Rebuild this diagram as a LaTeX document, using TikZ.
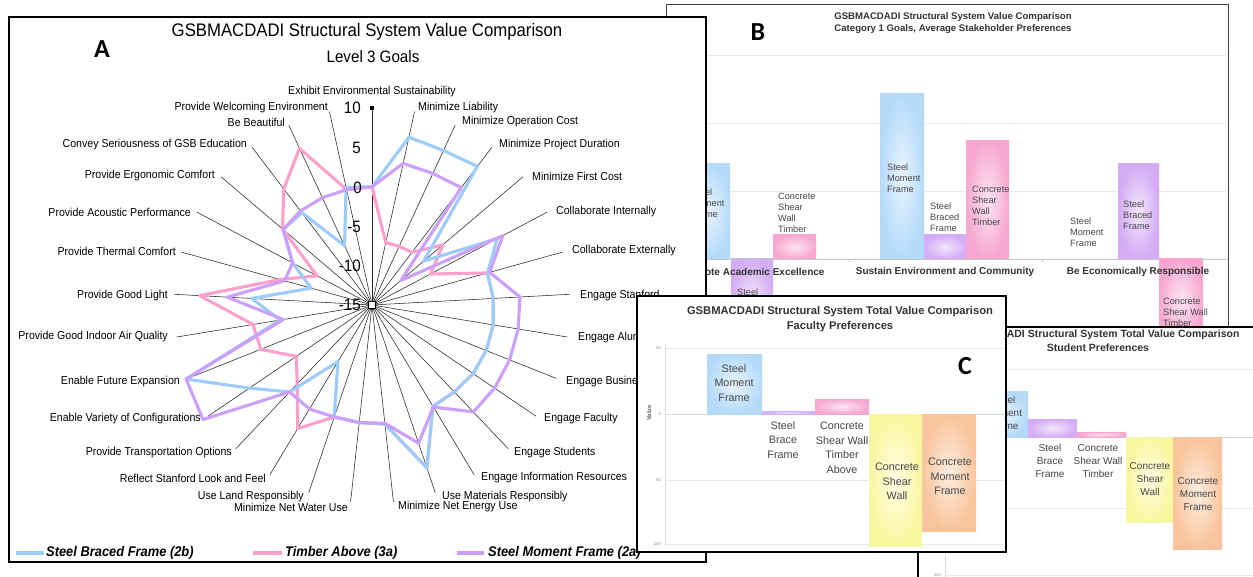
\documentclass[tikz,border=0pt]{standalone}
\usepackage{fontspec}
\setmainfont{Liberation Sans}
\newfontfamily\nf[FakeStretch=0.92]{Liberation Sans}
\newfontfamily\lettfont{Carlito}
\usetikzlibrary{calc}
\definecolor{rblue}{RGB}{158,204,250}
\definecolor{rpink}{RGB}{255,160,204}
\definecolor{rpurp}{RGB}{204,160,250}
\definecolor{bblue}{RGB}{180,218,250}
\definecolor{bpurp}{RGB}{212,172,245}
\definecolor{bpink}{RGB}{247,168,208}
\definecolor{byell}{RGB}{250,246,160}
\definecolor{borng}{RGB}{249,196,155}
\definecolor{ink}{RGB}{70,70,70}
\newcommand\mkser[2]{%
  \foreach \v [count=\i from 0] in {#2}{%
    \pgfmathsetmacro\myr{7.88*(\v+15)}%
    \coordinate (#1\i) at ([shift={(c)}]{90-\i*360/29}:\myr pt);%
  }}
\newcommand\gbar[3]{\shade[inner color=#1!30!white, outer color=#1] #2 rectangle #3;}
\begin{document}
\begin{tikzpicture}[x=1pt,y=-1pt,
  ax/.style={draw=black!85,line width=0.55pt},
  ser/.style={line width=3.1pt,line join=round},
  la/.style={font=\nf\fontsize{11.5}{13}\selectfont,inner sep=0pt},
  num/.style={font=\nf\fontsize{16.5}{18}\selectfont,inner sep=0pt,anchor=east},
  leg/.style={font=\nf\bfseries\itshape\fontsize{14}{16}\selectfont,inner sep=0pt,anchor=west},
  bigl/.style={font=\lettfont\bfseries\fontsize{26}{28}\selectfont,inner sep=0pt},
  bt/.style={font=\bfseries\fontsize{9.6}{11}\selectfont,text=black!80,inner sep=0pt},
  bcat/.style={font=\bfseries\fontsize{10}{12}\selectfont,text=black!80,inner sep=0pt},
  bl/.style={font=\fontsize{9.2}{11.3}\selectfont,text=ink,inner sep=0pt,align=left,anchor=north west},
  ct/.style={font=\bfseries\fontsize{11.2}{13}\selectfont,text=black!80,inner sep=0pt},
  cl/.style={font=\fontsize{10.8}{14.5}\selectfont,text=ink,inner sep=0pt,align=center,anchor=north},
  dt/.style={font=\bfseries\fontsize{10.5}{12}\selectfont,text=black!80,inner sep=0pt},
  dl/.style={font=\fontsize{10}{13}\selectfont,text=ink,inner sep=0pt,align=center,anchor=north},
  tk/.style={font=\fontsize{4}{5}\selectfont,text=gray,inner sep=0pt,anchor=east},
  gl/.style={draw=gray!18,line width=0.6pt}]
\useasboundingbox (0,0) rectangle (1253,577);
\fill[white] (0,0) rectangle (1253,577);

% ===================== B =====================
\draw[black!75,line width=0.9pt,fill=white] (666,4) rectangle (1228,330);
\foreach \y in {55,123,191}{\draw[gl] (700,\y) -- (1226,\y);}
\gbar{bblue}{(687,164)}{(730,259)}
\gbar{bpurp}{(731,259)}{(773,340)}
\gbar{bpink}{(773,235)}{(816,259)}
\gbar{bblue}{(880,94)}{(924,259)}
\gbar{bpurp}{(924,235)}{(966,259)}
\gbar{bpink}{(966,141)}{(1009,259)}
\gbar{bpurp}{(1118,164)}{(1159,259)}
\gbar{bpink}{(1159,259)}{(1203,340)}
\draw[gray!45,line width=0.6pt] (700,259) -- (1228,259);
\draw[gray!45] (849,259) -- (849,262) (1042,259) -- (1042,262);
\node[bt] (bt1) at (953,17) {GSBMACDADI Structural System Value Comparison};
\node[bt] (bt2) at (953,29) {Category 1 Goals, Average Stakeholder Preferences};
\node[bigl] (bB) at (758,32) {B};
\node[bcat] (bc1) at (752,272) {Promote Academic Excellence};
\node[bcat] (bc2) at (945,272) {Sustain Environment and Community};
\node[bcat] (bc3) at (1138,272) {Be Economically Responsible};
\node[bl] (bl1) at (691,188.4) {Steel\\Moment\\Frame};
\node[bl] (bl2) at (737,288.4) {Steel};
\node[bl] (bl3) at (778,192.4) {Concrete\\Shear\\Wall\\Timber};
\node[bl] (bl4) at (887,163.4) {Steel\\Moment\\Frame};
\node[bl] (bl5) at (930,202.4) {Steel\\Braced\\Frame};
\node[bl] (bl6) at (972,185.4) {Concrete\\Shear\\Wall\\Timber};
\node[bl] (bl7) at (1070,217.4) {Steel\\Moment\\Frame};
\node[bl] (bl8) at (1123,200.4) {Steel\\Braced\\Frame};
\node[bl] (bl9) at (1163,297.4) {Concrete\\Shear Wall\\Timber};

% ===================== A =====================
\draw[black,line width=1.1pt,fill=white] (9,17) rectangle (706,562);
\node[font=\nf\fontsize{18.2}{20}\selectfont,inner sep=0pt] (at1) at (367,32) {GSBMACDADI Structural System Value Comparison};
\node[font=\nf\fontsize{16.5}{18}\selectfont,inner sep=0pt] (at2) at (373,57) {Level 3 Goals};
\node[bigl] (aA) at (102,49) {A};
\coordinate (c) at (372,305);
\foreach \i in {1,...,28}{\coordinate (e\i) at ([shift={(c)}]{90-\i*360/29}:198pt);}
\coordinate (e0) at (372,108);
\foreach \i in {0,...,28}{\draw[ax] (c) -- (e\i);}
\mkser{b}{0,6.8,6.6,7.1,-6.4,3.0,0.2,0.4,0.6,0.6,0.5,0.2,0,6.8,0.2,0,0,-6.6,0.2,3.8,10.4,-3.2,0.3,-7.0,-3.6,-0.2,-0.3,-6.7,0.3}
\mkser{p}{0,-6.9,-6.8,-6.6,-3.2,-6.6,0.2,0.4,0.6,0.6,0.5,0.2,0,6.8,0.2,0,0,3.3,-1.2,-3.4,0.2,0.3,6.9,-2.9,-7.1,-0.1,3.5,6.9,0}
\mkser{m}{0,3.4,3.4,3.7,-10.2,3.8,0.5,3.8,3.8,3.8,3.8,3.7,0.1,3.5,0.1,0,0,0.4,0.2,10.9,10.4,-3.6,3.4,-3.5,-3.6,-0.2,0,0,0}
\draw[ser,rpink] (p0) \foreach \i in {1,...,28}{ -- (p\i)} -- cycle;
\draw[ser,rblue] (b0) \foreach \i in {1,...,28}{ -- (b\i)} -- cycle;
\draw[ser,rpurp] (m0) \foreach \i in {1,...,28}{ -- (m\i)} -- cycle;
\node[draw=black,fill=white,minimum size=7pt,inner sep=0pt,line width=0.9pt] (cm) at (c) {};
\node[fill=black,minimum size=4.5pt,inner sep=0pt] (tm) at (e0) {};
\node[num] (n1) at (361,108) {10};
\node[num] (n2) at (361,148) {5};
\node[num] (n3) at (362,188) {0};
\node[num] (n4) at (361,227) {-5};
\node[num] (n5) at (361,266) {-10};
\node[num] (n6) at (361,305) {-15};
% right labels
\node[la] (t0) at (372,92) {Exhibit Environmental Sustainability};
\node[la,anchor=west] (t1) at (418,108) {Minimize Liability};
\node[la,anchor=west] (t2) at (462,122) {Minimize Operation Cost};
\node[la,anchor=west] (t3) at (499,145) {Minimize Project Duration};
\node[la,anchor=west] (t4) at (532,176) {Minimize First Cost};
\node[la,anchor=west] (t5) at (556,212) {Collaborate Internally};
\node[la,anchor=west] (t6) at (572,251) {Collaborate Externally};
\node[la,anchor=west] (t7) at (580,296) {Engage Stanford};
\node[la,anchor=west] (t8) at (578,338) {Engage Alumni};
\node[la,anchor=west] (t9) at (566,382) {Engage Business};
\node[la,anchor=west] (t10) at (544,419) {Engage Faculty};
\node[la,anchor=west] (t11) at (514,453) {Engage Students};
\node[la,anchor=west] (t12) at (481,478) {Engage Information Resources};
\node[la,anchor=west] (t13) at (442,497) {Use Materials Responsibly};
\node[la,anchor=west] (t14) at (398,507) {Minimize Net Energy Use};
% left labels
\node[la,anchor=east] (t15) at (348,507) {Minimize Net Water Use};
\node[la,anchor=east] (t16) at (304,497) {Use Land Responsibly};
\node[la,anchor=east] (t17) at (266,478) {Reflect Stanford Look and Feel};
\node[la,anchor=east] (t18) at (232,453) {Provide Transportation Options};
\node[la,anchor=east] (t19) at (201,419) {Enable Variety of Configurations};
\node[la,anchor=east] (t20) at (180,382) {Enable Future Expansion};
\node[la,anchor=east] (t21) at (168,337) {Provide Good Indoor Air Quality};
\node[la,anchor=east] (t22) at (168,296) {Provide Good Light};
\node[la,anchor=east] (t23) at (176,251) {Provide Thermal Comfort};
\node[la,anchor=east] (t24) at (191,212) {Provide Acoustic Performance};
\node[la,anchor=east] (t25) at (215,176) {Provide Ergonomic Comfort};
\node[la,anchor=east] (t26) at (247,145) {Convey Seriousness of GSB Education};
\node[la,anchor=east] (t27) at (285,122) {Be Beautiful};
\node[la,anchor=east] (t28) at (328,108) {Provide Welcoming Environment};
% legend
\coordinate (lg1a) at (16,553); \coordinate (lg1b) at (44,553);
\coordinate (lg2a) at (253,553); \coordinate (lg2b) at (282,553);
\coordinate (lg3a) at (457,553); \coordinate (lg3b) at (484,553);
\draw[ser,rblue] (lg1a) -- (lg1b);
\draw[ser,rpink] (lg2a) -- (lg2b);
\draw[ser,rpurp] (lg3a) -- (lg3b);
\node[leg] (lt1) at (46,553) {Steel Braced Frame (2b)};
\node[leg] (lt2) at (285,553) {Timber Above (3a)};
\node[leg] (lt3) at (488,553) {Steel Moment Frame (2a)};

% ===================== D (student) =====================
\begin{scope}
\clip (0,0) rectangle (1253,577);
\draw[black,line width=1.1pt,fill=white] (918,327) rectangle (1262,590);
\foreach \y in {369,508,575}{\draw[gl] (945,\y) -- (1253,\y);}
\draw[gray!30,line width=0.6pt] (945,437) -- (1253,437);
\draw[gray!30,line width=0.6pt] (945,360) -- (945,577);
\node[tk] (dk) at (941,575) {-100};
\gbar{bblue}{(979,391)}{(1028,437)}
\gbar{bpurp}{(1028,419)}{(1077,437)}
\gbar{bpink}{(1077,432)}{(1126,437)}
\gbar{byell}{(1126,437)}{(1173,522)}
\gbar{borng}{(1173,437)}{(1222,549)}
\node[dt] (dt1) at (1096,335) {GSBMACDADI Structural System Total Value Comparison};
\node[dt] (dt2) at (1098,348) {Student Preferences};
\node[dl] (dl1) at (1004,396) {Steel\\Moment\\Frame};
\node[dl] (dl2) at (1050,444) {Steel\\Brace\\Frame};
\node[dl] (dl3) at (1098,444) {Concrete\\Shear Wall\\Timber};
\node[dl] (dl4) at (1150,462) {Concrete\\Shear\\Wall};
\node[dl] (dl5) at (1198,477) {Concrete\\Moment\\Frame};
\end{scope}

% ===================== C (faculty) =====================
\draw[black,line width=1.1pt,fill=white] (637,296) rectangle (1006,552);
\foreach \y in {348,480,544}{\draw[gl] (665,\y) -- (1004,\y);}
\draw[gray!30,line width=0.6pt] (665,414) -- (1004,414);
\draw[gray!25,line width=0.6pt] (665,345) -- (665,546);
\node[tk] (ck1) at (661,348) {50};
\node[tk] (ck2) at (661,414) {0};
\node[tk] (ck3) at (661,480) {-50};
\node[tk] (ck4) at (661,544) {-100};
\node[font=\bfseries\fontsize{6}{7}\selectfont,text=black!60,rotate=90,inner sep=0pt] (cv) at (649,413) {Value};
\gbar{bblue}{(707,354)}{(762,414)}
\gbar{bpurp}{(762,411)}{(815,414)}
\gbar{bpink}{(815,399)}{(869,414)}
\gbar{byell}{(869,414)}{(922,546)}
\gbar{borng}{(922,414)}{(976,531)}
\node[ct] (ct1) at (840,312) {GSBMACDADI Structural System Total Value Comparison};
\node[ct] (ct2) at (840,327) {Faculty Preferences};
\node[bigl] (cC) at (965,366) {C};
\node[cl] (cl1) at (734,364) {Steel\\Moment\\Frame};
\node[cl] (cl2) at (783,421) {Steel\\Brace\\Frame};
\node[cl] (cl3) at (842,422) {Concrete\\Shear Wall\\Timber\\Above};
\node[cl] (cl4) at (897,463) {Concrete\\Shear\\Wall};
\node[cl] (cl5) at (950,458) {Concrete\\Moment\\Frame};
\end{tikzpicture}
\end{document}
